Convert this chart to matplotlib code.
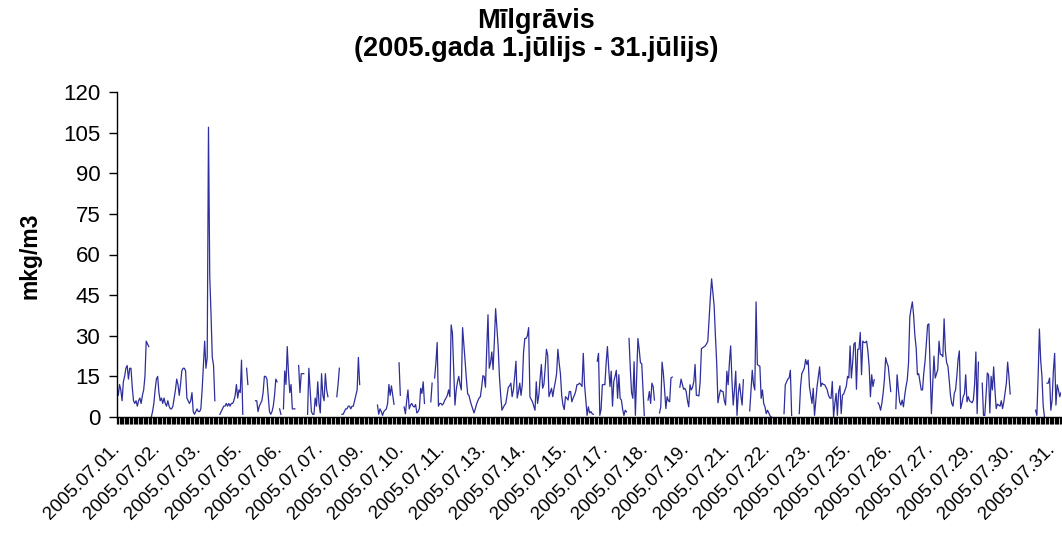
import numpy as np
import matplotlib
matplotlib.use('Agg')
import matplotlib.pyplot as plt

plt.rcParams['font.family'] = ['Liberation Sans', 'DejaVu Sans']

# stundu vidējās koncentrācijas, mkg/m3 (None = nav datu)
seg_a = [11, 8, 12, 10, 6, 13, 15, 18, 19, 14, 18, 18, 11, 6, 5, 6, 4, 6, 7, 5, 8, 10, 15, 28, 27, 26]
seg_b = [0, 2, 5, 10, 14, 15, 9, 6, 7, 5, 7, 5, 4, 6, 4, 3, 3, 4, 7, 10, 14, 12, 8, 12, 17,
         18, 18, 17, 7, 6, 5, 6, 9, 2, 1, 2, 3, 2, 2, 3, 10, 19, 28, 18, 22]
seg_c = [107, 52, 38, 22, 19, 6]
seg_d = [1, 2, 3, 4, 4, 5, 4, 5, 4, 5, 5, 6, 8, 12, 7, 10, 9, 21, 1]
seg_e = [18, 12]
seg_f = [6, 6, 2, 4, 5, 6, 9, 15, 15, 14, 8, 2, 1, 2, 4, 8, 14, 13]
seg_g = [3, 1]
seg_h = [3, 17, 12, 26, 16, 9, 12, 3, 3, 3]
seg_i = [19, 9, 16, 16, 16]
seg_j = [1, 18, 10, 2, 1, 1, 7, 4, 13, 5, 1.5, 16, 8, 6, 16, 10, 7.5]
seg_k = [7.5, 12, 18]
seg_l = [1, 1, 2, 3, 3, 4, 4, 3, 4, 4, 6, 8, 10, 22, 12]
seg_m = [4.4, 1, 3, 2, 0.6, 2, 2.5, 3, 5, 12, 8, 11.5, 8, 4.7]
seg_n = [20, 8]
seg_o = [3.7, 1.2, 6, 10, 3, 4.4, 5, 4, 3.7, 4.6, 1.5, 2, 3.1, 10.6, 8.7, 13, 5]
seg_p = [5.6, 12.5]
seg_q = [14.4, 20, 27.5, 4, 5, 5, 4.4, 5, 6.25, 7,
         8, 10, 7.5, 34, 31, 18, 4.4, 10, 13, 15,
         12, 10, 33, 27, 20.6, 14, 8.5, 8, 6, 4.4,
         3, 1.5, 3, 4.75, 6, 7, 7.5, 11, 15.25, 15,
         11, 25, 37.75, 18, 20, 24, 17.5, 28, 40, 33,
         26, 15, 8, 2.5, 3.5, 4.4, 5, 8, 11, 11.5,
         12.5, 7.5, 10, 15, 20.6, 7, 9.4, 12.5, 8, 12,
         24, 29, 29, 30, 33, 7.5, 6.5, 5.6, 4, 2.5,
         13, 5, 8, 14, 19.4, 10.6, 12, 18, 25, 22.75,
         7.5, 9, 10.6, 7.5, 10.6, 13, 16, 25, 20, 16,
         8, 4.4, 2.75, 7.5, 7, 6.25, 9.4, 9.4, 5.6, 7,
         8, 9.4, 11.9, 12, 12.5, 12, 11.25, 23.5, 11.9, 6,
         0.6, 3.75, 1.5, 2, 1.2, 1]
seg_r = [20.6, 23.5, 0.6, 2.75, 11.9, 12, 11.9, 20, 26, 18, 11.25, 16.9, 4, 13.1, 15, 17.25,
         6.9, 15.6, 6.9, 6.25, 2.75, 0.6, 2.5, 1.9]
seg_s = [29, 18, 9, 6.9, 20.4, 0.6, 14.4, 29, 25, 20, 19.75, 10, 0.6]
seg_t = [6.25, 9.4, 5, 12.5, 11.25, 6.25]
seg_u = [1.5, 3.75, 20.25, 16.25, 10, 3.1, 7.5, 6, 5.6, 14.4, 14.75]
seg_v = [11, 14, 12, 10.25, 10.6, 9.4, 6, 3.75, 11.9, 10,
         11, 13.1, 19.4, 8, 8, 7.75, 13.1, 25.25, 25.6, 26,
         26.25, 27, 28, 36.25, 44, 51, 46, 41, 30, 20,
         5.25, 8, 10, 9.5, 9.4, 6, 4.4, 16.9, 11.9, 20,
         26.25, 13.75, 4.4, 10, 16.9, 0.6, 8.75, 12.25, 8, 4.4,
         13.75]
seg_w = [2.25, 10, 17.25, 12, 10, 42.5, 19.4, 19, 18.75, 6.9, 10, 5, 3.75, 1.25, 2.5, 1.5, 0.4, 0]
seg_x = [1.25, 11.9, 13, 14, 14.4, 17.25, 0.6]
seg_y = [1.25, 11.25, 16, 17, 18.1, 21.25, 19.4, 21, 11.25, 8,
         5, 10.6, 0.6, 6, 11.25, 15, 18.5, 11.25, 12.5, 12,
         11.9, 11, 10, 8, 7, 6.9, 13.1, 0, 5, 8.75,
         0.6, 9.4, 11.5, 1.25, 8.1, 8.5, 10, 11.25, 15, 14.4,
         26.25, 14.4, 20, 26.9, 27.5, 10.25, 25, 25, 31.25, 15.6,
         28, 27.5, 27.5, 28, 24.4, 18.75, 7.5, 15.6, 11.25, 13.75]
seg_z = [5.25, 4.4, 2.5, 5, 8.75, 13.75, 21.9, 20, 18.75, 14, 9.4]
seg_aa = [3.1, 15.6, 10, 5.6, 4.4, 6.25, 3.75, 8, 11.25, 13.75,
          20, 36.9, 40, 42.5, 37.5, 30, 25.6, 15.6, 16, 13,
          10, 10, 16.25, 20.6, 27, 34, 34.4, 18, 1.25, 12,
          22.5, 14.4, 16, 17.5, 28, 23.1, 23, 22.25, 36.25, 24.4,
          20, 18.75, 13.75, 8, 5, 4, 8.75, 10, 15, 21.25,
          24.4, 3.1, 5, 7.5, 8.5, 15.6, 5.6, 7.5, 6, 5.6,
          5.25, 6.25, 12, 24, 1.25, 20.25]
seg_ab = [12.5, 0.6, 0.6, 8, 16.25, 15.6, 1.5, 15, 10, 18.5,
          10, 3.1, 4.75, 4.4, 4, 6, 3.1, 5.6, 9, 12.5,
          20.25, 15, 8.5]
seg_ac = [2.5, 0.6, 15, 32.5, 21, 15, 4, 0, None, 12.5, 12.5, 14.4, 2.5, 6.25, 16.9, 23.5,
          4.4, 11.9, 10, 7.5, 9]

gap = [None]
vertibas = (seg_a + gap + seg_b + seg_c + gap * 3 + seg_d + gap * 2 + seg_e + gap * 5 + seg_f
            + gap + seg_g + gap + seg_h + gap * 2 + seg_i + gap * 2 + seg_j + gap * 6 + seg_k
            + gap + seg_l + gap * 13 + seg_m + gap * 3 + seg_n + gap * 2 + seg_o + gap * 4 + seg_p
            + gap + seg_q + gap * 2 + seg_r + gap + seg_s + gap * 2 + seg_t + gap * 3 + seg_u
            + gap * 5 + seg_v + gap * 4 + seg_w + gap * 9 + seg_x + gap * 5 + seg_y + gap * 2
            + seg_z + gap * 3 + seg_aa + gap * 2 + seg_ab + gap * 19 + seg_ac)
assert len(vertibas) == 744, len(vertibas)

datumi = ['2005.07.01.', '2005.07.02.', '2005.07.03.', '2005.07.05.', '2005.07.06.',
          '2005.07.07.', '2005.07.09.', '2005.07.10.', '2005.07.11.', '2005.07.13.',
          '2005.07.14.', '2005.07.15.', '2005.07.17.', '2005.07.18.', '2005.07.19.',
          '2005.07.21.', '2005.07.22.', '2005.07.23.', '2005.07.25.', '2005.07.26.',
          '2005.07.27.', '2005.07.29.', '2005.07.30.', '2005.07.31.']
solis = 32

y = np.array(vertibas, dtype=float)
x = np.arange(len(y))

fig = plt.figure(figsize=(10.62, 5.40), dpi=100)
ax = fig.add_axes([117/1062, 1 - 417/540, 944/1062, 325/540])

ax.plot(x, y, color='#2E2E9C', linewidth=0.9)

ax.set_xlim(0, len(y) - 1)
ax.set_ylim(0, 120)
ax.set_yticks(np.arange(0, 121, 15))

ax.set_xticks(np.arange(0, len(y), solis))
ax.set_xticklabels(datumi, rotation=45, ha='right', va='center', rotation_mode='anchor')
ax.set_xticks(x, minor=True)

for s in ['top', 'right']:
    ax.spines[s].set_visible(False)
for s in ['left', 'bottom']:
    ax.spines[s].set_color('black')
    ax.spines[s].set_linewidth(1)

ax.tick_params(axis='y', direction='out', length=6, width=1, labelsize=16, pad=6)
ax.tick_params(axis='x', which='both', direction='out', length=5, width=0.9, labelsize=13.5, pad=16)

fig.text(536/1062, 1 - 35/540, 'Mīlgrāvis\n(2005.gada 1.jūlijs - 31.jūlijs)',
         ha='center', va='center', fontsize=19.5, fontweight='bold', linespacing=1.1)
fig.text(30/1062, 1 - 256/540, 'mkg/m3', rotation=90, ha='center', va='center',
         fontsize=16.5, fontweight='bold')

fig.savefig('out.png', dpi=100)
